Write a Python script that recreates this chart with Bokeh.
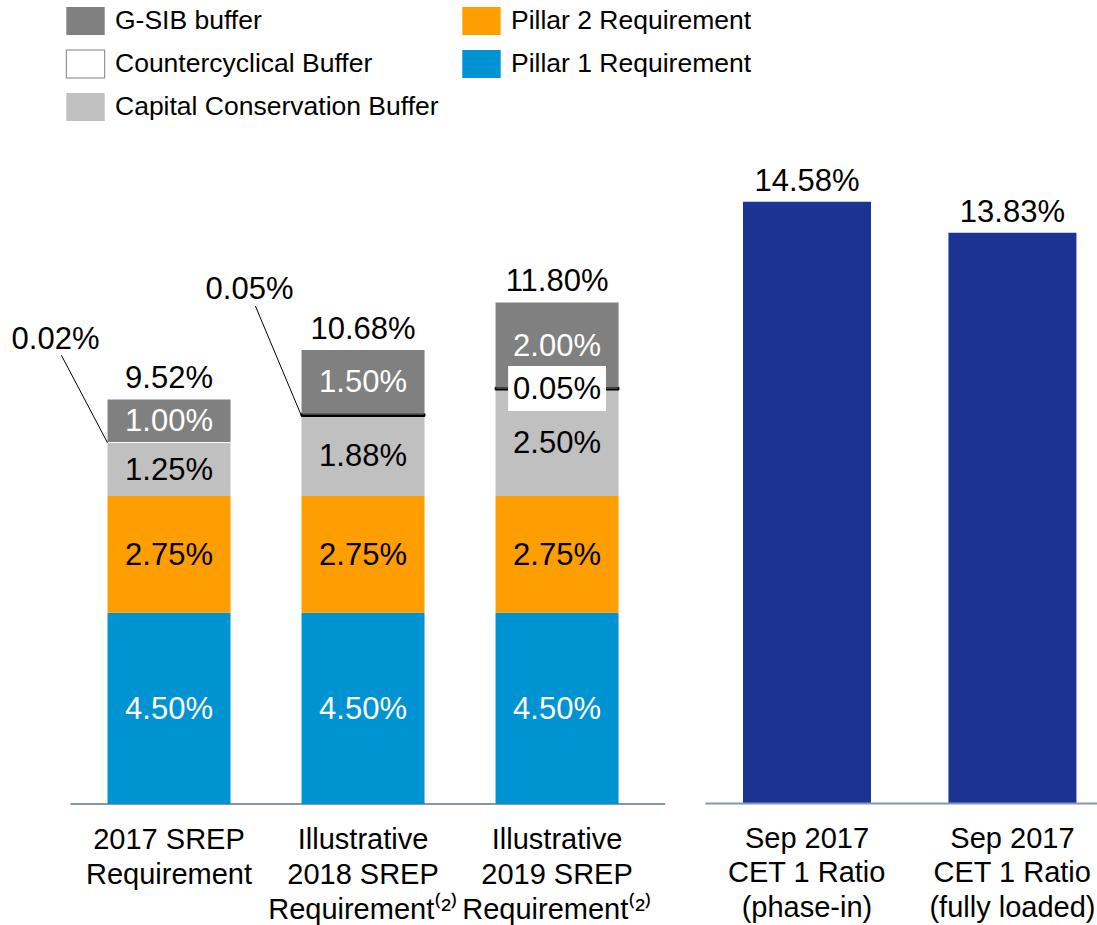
import numpy as np
from bokeh.plotting import figure
from bokeh.models import Range1d, FixedTicker, Legend, LegendItem, Label, Arrow
from bokeh.layouts import column, row
from bokeh.embed import file_html
from bokeh.resources import INLINE
from bokeh.core.properties import value

# ---------------- data ----------------
srep_labels = ["2017 SREP\nRequirement",
               "Illustrative\n2018 SREP\nRequirement\u207d\u00b2\u207e",
               "Illustrative\n2019 SREP\nRequirement\u207d\u00b2\u207e"]
pillar1 = [4.50, 4.50, 4.50]
pillar2 = [2.75, 2.75, 2.75]
conservation = [1.25, 1.88, 2.50]
countercyclical = [0.02, 0.05, 0.05]
gsib = [1.00, 1.50, 2.00]
srep_totals = [9.52, 10.68, 11.80]

cet1_labels = ["Sep 2017\nCET 1 Ratio\n(phase-in)",
               "Sep 2017\nCET 1 Ratio\n(fully loaded)"]
cet1_ratio = [14.58, 13.83]

legend_col1 = ["G-SIB buffer", "Countercyclical Buffer", "Capital Conservation Buffer"]
legend_col2 = ["Pillar 2 Requirement", "Pillar 1 Requirement"]

# ---------------- styles ----------------
FONT = "Liberation Sans"
C_P1 = "#0093D2"
C_P2 = "#FF9E00"
C_CCB = "#C0C0C0"
C_CCYB = "#FFFFFF"
C_GSIB = "#808080"
C_NAVY = "#1B3393"
C_AXIS = "#8497B0"
LBL = "31px"


def pct(v):
    return f"{v:.2f}%"


def base_fig(**kw):
    p = figure(toolbar_location=None, output_backend="svg", title=None,
               min_border=0, **kw)
    p.grid.visible = False
    p.outline_line_color = None
    p.background_fill_color = "white"
    p.border_fill_color = "white"
    return p


def style_axis(ax, ticks, labels, line_height, standoff, show_line=True):
    ax.ticker = FixedTicker(ticks=ticks)
    ax.major_label_overrides = {i: lab for i, lab in enumerate(labels)}
    ax.major_label_text_font = FONT
    ax.major_label_text_font_size = "29px"
    ax.major_label_text_color = "black"
    ax.major_label_text_line_height = line_height
    ax.major_label_standoff = standoff
    ax.axis_line_color = C_AXIS if show_line else None
    ax.axis_line_width = 2
    ax.major_tick_line_color = None
    ax.minor_tick_line_color = None


# ---------------- legend strip ----------------
leg = base_fig(width=1097, height=140, x_range=Range1d(0, 1), y_range=Range1d(0, 1),
               x_axis_location=None, y_axis_location=None)
# legend swatches (one off-screen placeholder row each, so the swatch is painted)
swatch = dict(x=[-10], top=[0], width=1)
r_gsib = leg.vbar(fill_color=C_GSIB, line_color=None, **swatch)
r_ccyb = leg.vbar(fill_color=C_CCYB, line_color="#7F7F7F", line_width=1, **swatch)
r_ccb = leg.vbar(fill_color=C_CCB, line_color=None, **swatch)
r_p2 = leg.vbar(fill_color=C_P2, line_color=None, **swatch)
r_p1 = leg.vbar(fill_color=C_P1, line_color=None, **swatch)

leg_style = dict(orientation="vertical", glyph_width=48, glyph_height=35,
                 label_standoff=6, spacing=8, padding=0, margin=0,
                 border_line_color=None, background_fill_alpha=0,
                 label_text_font=FONT, label_text_font_size="26.5px",
                 label_text_color="#000000")
l1 = Legend(items=[LegendItem(label=legend_col1[0], renderers=[r_gsib]),
                   LegendItem(label=legend_col1[1], renderers=[r_ccyb]),
                   LegendItem(label=legend_col1[2], renderers=[r_ccb])],
            location=(61, 16), **leg_style)
l2 = Legend(items=[LegendItem(label=legend_col2[0], renderers=[r_p2]),
                   LegendItem(label=legend_col2[1], renderers=[r_p1])],
            location=(457, 59), **leg_style)
leg.add_layout(l1)
leg.add_layout(l2)

# ---------------- left panel: SREP stacks ----------------
PX_L = 42.5          # pixels per percentage point
FH_L = 667
Y0_L = -3.5 / PX_L
BAR_W_L = 0.634
BASE_X0, BASE_X1 = -0.508, 2.559   # extent of the baseline
xs = list(range(len(srep_labels)))

left = base_fig(frame_width=665, frame_height=FH_L,
                x_range=Range1d(-0.8686, 2.559), y_range=Range1d(Y0_L, Y0_L + FH_L / PX_L),
                y_axis_location=None)
left.min_border_right = 20

left.segment(x0=[BASE_X0], y0=[0], x1=[BASE_X1], y1=[0], line_color=C_AXIS, line_width=2)

layers = [pillar1, pillar2, conservation, countercyclical, gsib]
cum = np.vstack([np.zeros(len(xs)), np.cumsum(np.array(layers), axis=0)])
fills = [C_P1, C_P2, C_CCB, C_CCYB, C_GSIB]
for k, vals in enumerate(layers):
    if k == 3:
        left.vbar(x=xs, bottom=cum[k], top=cum[k + 1], width=BAR_W_L,
                  fill_color=C_CCYB, line_color="black", line_width=1.8,
                  line_alpha=[1.0 if v >= 0.05 else 0.0 for v in vals])
    else:
        left.vbar(x=xs, bottom=cum[k], top=cum[k + 1], width=BAR_W_L,
                  fill_color=fills[k], line_color=None)

seg_text_color = {0: "white", 1: "black", 2: "black", 4: "white"}
for k, col in seg_text_color.items():
    vals = layers[k]
    left.text(x=xs, y=list((cum[k] + cum[k + 1]) / 2), text=[pct(v) for v in vals],
              text_font=value(FONT), text_font_size=LBL, text_color=col,
              text_align="center", text_baseline="middle")

left.text(x=xs, y=srep_totals, text=[pct(v) for v in srep_totals],
          text_font=value(FONT), text_font_size=LBL, text_color="black",
          text_align="center", text_baseline="middle", y_offset=-22)

# countercyclical annotations: leaders for the first two bars, boxed label for the third
LEAD_DX, LEAD_DY = -0.585, 1.44
for i in xs:
    v = countercyclical[i]
    if i < 2:
        lx = i + LEAD_DX
        ly = srep_totals[i] + LEAD_DY
        left.add_layout(Label(x=lx, y=ly, text=pct(v), text_font=FONT,
                              text_font_size=LBL, text_color="black",
                              text_align="center", text_baseline="middle"))
        left.add_layout(Arrow(end=None, x_start=lx + 0.03, y_start=ly - 0.40,
                              x_end=i - BAR_W_L / 2, y_end=cum[3][i],
                              line_color="black", line_width=1))
    else:
        left.add_layout(Label(x=i, y=(cum[3][i] + cum[4][i]) / 2, text=pct(v),
                              text_font=FONT, text_font_size=LBL, text_color="black",
                              text_align="center", text_baseline="middle",
                              background_fill_color="white", padding=5))

style_axis(left.xaxis[0], xs, srep_labels, 1.1, 9, show_line=False)

# ---------------- right panel: CET1 ratios ----------------
PX_R = 41.27
FH_R = 663
BAR_W_R = 0.623
xr = list(range(len(cet1_labels)))
right = base_fig(frame_width=392, frame_height=FH_R,
                 x_range=Range1d(-0.494, 1.414), y_range=Range1d(0, FH_R / PX_R),
                 y_axis_location=None)
right.min_border_left = 20
right.vbar(x=xr, top=cet1_ratio, width=BAR_W_R, fill_color=C_NAVY, line_color=None)
right.text(x=xr, y=cet1_ratio, text=[pct(v) for v in cet1_ratio],
           text_font=value(FONT), text_font_size=LBL, text_color="black",
           text_align="center", text_baseline="middle", y_offset=-21)
style_axis(right.xaxis[0], xr, cet1_labels, 1.09, 12)

layout = column(leg, row(left, right))
open("out.html", "w").write(file_html(layout, INLINE))
